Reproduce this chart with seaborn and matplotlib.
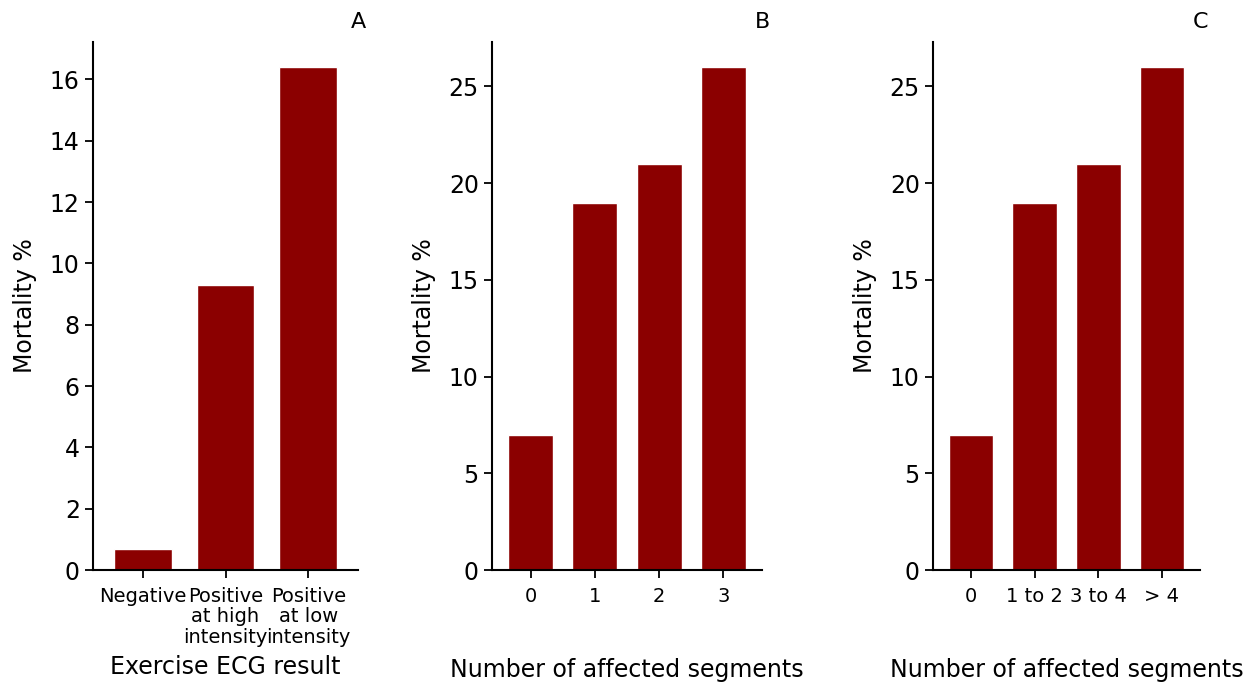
import matplotlib
matplotlib.use("Agg")
import matplotlib.pyplot as plt
import seaborn as sns
import pandas as pd

sns.set_style("ticks")
plt.rcParams['font.family'] = ['DejaVu Sans']
plt.rcParams.update({
    "text.color": "black",
    "axes.labelcolor": "black",
    "axes.edgecolor": "black",
    "xtick.color": "black",
    "ytick.color": "black",
})

ecg_categories = ["Negative", "Positive\nat high\nintensity", "Positive\nat low\nintensity"]
ecg_mortality = [0.7, 9.3, 16.4]

seg_categories_b = ["0", "1", "2", "3"]
seg_mortality_b = [7, 19, 21, 26]

seg_categories_c = ["0", "1 to 2", "3 to 4", "> 4"]
seg_mortality_c = [7, 19, 21, 26]

panels = [
    (ecg_categories, ecg_mortality, "Exercise ECG result", "A", [93, 358], -0.161),
    (seg_categories_b, seg_mortality_b, "Number of affected segments", "B", [492, 762], -0.167),
    (seg_categories_c, seg_mortality_c, "Number of affected segments", "C", [933, 1200], -0.167),
]

W, H = 1258, 685
fig = plt.figure(figsize=(W / 100, H / 100), dpi=100)
top_px, bot_px = 42, 570

for cats, vals, xlab, title, (l, r), ly in panels:
    ax = fig.add_axes([l / W, 1 - bot_px / H, (r - l) / W, (bot_px - top_px) / H])
    df = pd.DataFrame({"cat": cats, "val": vals})
    sns.barplot(data=df, x="cat", y="val", order=cats, color="#8b0000",
                saturation=1, width=0.7, ax=ax)
    n = len(cats)
    ax.set_xlim(-0.6, n - 1 + 0.6)
    ax.set_ylim(0, max(vals) * 1.05)
    ax.set_xlabel(xlab, fontsize=17)
    ax.xaxis.set_label_coords(0.5, ly)
    ax.set_ylabel("Mortality %", fontsize=17, labelpad=9)
    ax.annotate(title, xy=(1, 1), xycoords="axes fraction", xytext=(8, 14),
                textcoords="offset pixels", ha="right", va="baseline", fontsize=16)
    ax.tick_params(axis="y", labelsize=17, length=6, width=1.3)
    ax.tick_params(axis="x", labelsize=14, length=6, width=1.3, pad=6)
    for lab in ax.get_xticklabels():
        lab.set_linespacing(1.1)
    for s in ["left", "bottom"]:
        ax.spines[s].set_linewidth(1.5)
    sns.despine(ax=ax)

fig.savefig("out.png", dpi=100)
